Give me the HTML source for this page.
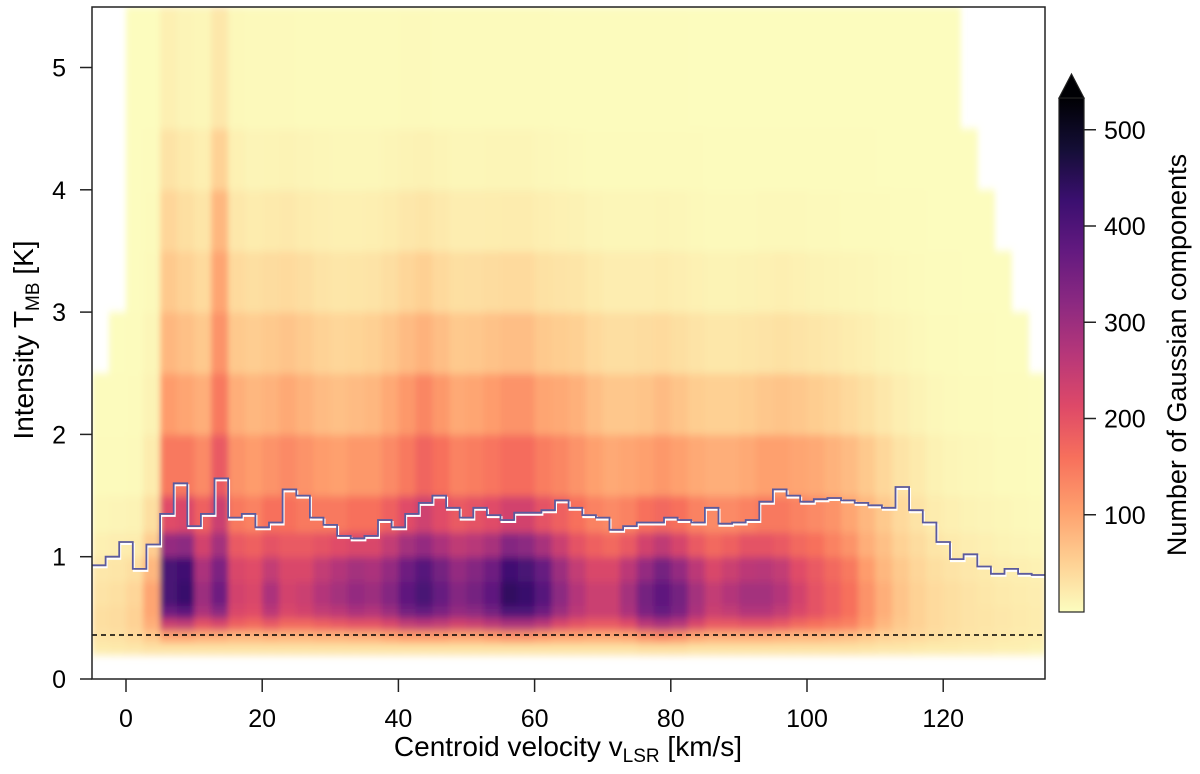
<!DOCTYPE html>
<html><head><meta charset="utf-8"><style>
html,body{margin:0;padding:0;background:#fff}
svg{display:block;font-family:"Liberation Sans",Arial,sans-serif}
</style></head><body>
<svg id="chart" width="1200" height="774" viewBox="0 0 1200 774" xmlns="http://www.w3.org/2000/svg">
<defs>
<filter id="soft" x="-0.02" y="-0.02" width="1.04" height="1.04"><feGaussianBlur stdDeviation="3 4"/></filter>
<clipPath id="plotclip"><rect x="92" y="7" width="953" height="672"/></clipPath>
<linearGradient id="cbgrad" x1="0" y1="1" x2="0" y2="0">
<stop offset="0" stop-color="#fcfdbf"/><stop offset="0.1" stop-color="#fecf92"/><stop offset="0.2" stop-color="#fe9f6d"/><stop offset="0.3" stop-color="#f7705c"/><stop offset="0.4" stop-color="#de4968"/><stop offset="0.5" stop-color="#b73779"/><stop offset="0.6" stop-color="#8c2981"/><stop offset="0.7" stop-color="#641a80"/><stop offset="0.8" stop-color="#3b0f70"/><stop offset="0.9" stop-color="#140e36"/><stop offset="1" stop-color="#000004"/>
</linearGradient>
</defs>
<g id="heat" clip-path="url(#plotclip)"><g id="cells" filter="url(#soft)"></g></g>
<g id="overlay" clip-path="url(#plotclip)"></g>
<rect x="92" y="7" width="953" height="672" fill="none" stroke="#222" stroke-width="1.5"/>
<g id="axes"></g>
<text x="568" y="756" font-size="28" text-anchor="middle">Centroid velocity v<tspan font-size="19" dy="6">LSR</tspan><tspan dy="-6"> [km/s]</tspan></text>
<text transform="translate(33,340) rotate(-90)" font-size="28" text-anchor="middle">Intensity T<tspan font-size="19" dy="6">MB</tspan><tspan dy="-6"> [K]</tspan></text>
<g id="colorbar">
<rect x="1059" y="98" width="25" height="514" fill="url(#cbgrad)" stroke="#222" stroke-width="1.2"/>
<polygon points="1059,98 1071.5,74 1084,98" fill="#000004" stroke="#222" stroke-width="1.2"/>
</g>
<text transform="translate(1186,355) rotate(-90)" font-size="27" text-anchor="middle">Number of Gaussian components</text>
</svg>
<script>
const NS="http://www.w3.org/2000/svg";
const velocityEdges=[-5,-2.5,0,2.5,5,7.5,10,12.5,15,17.5,20,22.5,25,27.5,30,32.5,35,37.5,40,42.5,45,47.5,50,52.5,55,57.5,60,62.5,65,67.5,70,72.5,75,77.5,80,82.5,85,87.5,90,92.5,95,97.5,100,102.5,105,107.5,110,112.5,115,117.5,120,122.5,125,127.5,130,132.5,135];
const intensityEdges=[0.2,0.3,0.4,0.5,0.6,0.8,1.0,1.2,1.5,2.0,2.5,3.0,3.5,4.0,4.5,5.5];
const counts=[
[20,30,35,35,30,25,15,8,3,2,0,0,0,0,0],
[22,32,38,38,34,28,18,10,4,2,1,0,0,0,0],
[25,40,50,50,45,35,20,12,5,3,2,1,1,1,1],
[30,60,90,100,100,80,55,35,20,12,8,5,3,2,1],
[30,100,240,360,410,410,310,210,150,110,80,60,45,30,15],
[30,100,250,380,430,420,320,220,150,100,70,50,35,22,10],
[30,90,200,280,300,280,230,180,130,90,60,40,28,16,8],
[30,90,220,320,360,340,290,240,190,150,120,100,80,50,25],
[30,80,180,220,230,220,190,150,120,90,60,40,25,14,6],
[30,80,170,210,220,210,180,140,110,80,55,35,20,10,5],
[30,85,190,260,280,250,200,160,120,85,60,38,22,11,5],
[30,80,170,220,230,220,190,160,130,95,65,40,24,12,5],
[30,80,170,230,240,220,190,150,120,85,58,36,20,10,4],
[30,85,180,250,270,250,200,150,110,75,50,30,17,8,3],
[30,85,190,260,290,270,210,150,105,70,45,27,15,7,3],
[30,90,200,280,310,290,220,160,115,75,48,28,15,7,3],
[30,90,200,270,300,280,220,160,115,80,52,30,16,7,3],
[30,100,220,300,330,310,250,180,130,95,62,36,20,9,4],
[30,110,250,350,380,360,290,210,150,115,75,45,25,12,5],
[30,110,260,370,410,390,310,235,175,135,85,52,28,13,5],
[30,110,250,340,370,350,280,210,160,115,72,42,23,11,4],
[30,100,230,310,330,310,255,190,140,95,60,35,18,8,3],
[30,100,240,320,350,330,265,200,145,100,62,36,18,8,3],
[30,110,260,350,380,360,285,210,155,110,68,38,19,9,3],
[30,120,280,400,440,420,330,230,165,120,72,40,20,9,3],
[30,120,280,400,430,410,320,230,165,120,72,40,20,9,3],
[30,110,260,360,390,370,285,200,145,100,60,33,16,7,3],
[30,100,220,300,320,300,240,180,135,95,56,30,14,6,2],
[30,100,200,260,270,250,200,160,120,88,52,28,13,5,2],
[30,95,190,240,240,220,180,140,105,72,42,22,10,4,2],
[30,95,190,240,240,220,170,130,95,62,36,18,8,3,2],
[30,100,210,280,290,260,190,140,100,62,36,18,8,3,2],
[35,120,260,340,350,310,230,160,105,66,38,18,8,3,2],
[35,130,280,370,380,350,255,170,115,75,40,20,9,3,2],
[35,120,265,340,350,310,225,160,105,66,35,17,8,3,2],
[30,100,220,280,290,260,190,140,95,56,30,14,6,3,1],
[30,90,190,240,250,220,170,130,90,52,26,12,5,2,1],
[30,90,190,250,270,240,180,130,90,52,26,12,5,2,1],
[30,90,200,270,290,260,200,140,95,56,28,13,5,2,1],
[30,90,200,270,290,265,200,150,105,62,30,14,6,2,1],
[30,85,190,250,270,250,190,150,105,66,33,16,6,2,1],
[30,80,170,220,230,210,170,140,100,62,30,14,6,2,1],
[30,80,160,200,200,190,160,130,95,56,27,12,5,2,1],
[30,75,150,180,180,170,140,120,85,50,24,11,5,2,1],
[30,70,140,160,160,150,120,100,75,42,20,9,4,2,1],
[28,60,110,120,120,110,90,80,60,34,16,8,3,2,1],
[25,50,80,90,90,80,70,60,44,25,12,6,3,1,1],
[25,45,60,65,65,60,50,42,30,17,9,5,2,1,1],
[22,40,50,50,50,45,38,30,22,12,6,3,2,1,1],
[20,35,40,40,40,35,28,20,13,7,4,2,1,1,1],
[20,30,35,35,35,30,22,15,9,5,3,2,1,1,1],
[18,28,30,30,30,25,18,12,7,4,2,1,1,1,0],
[18,25,28,28,26,22,15,10,6,3,2,1,1,0,0],
[15,22,25,25,22,18,12,8,4,2,1,1,0,0,0],
[15,20,22,22,20,16,10,6,3,2,1,0,0,0,0],
[12,18,20,20,18,14,8,5,2,1,0,0,0,0,0]
];
const stepStart=-5;
const stepWidth=2;
const stepValues=[0.93,1.0,1.12,0.9,1.1,1.35,1.6,1.25,1.35,1.64,1.32,1.35,1.24,1.28,1.55,1.5,1.32,1.26,1.17,1.15,1.17,1.3,1.24,1.35,1.44,1.5,1.4,1.32,1.4,1.34,1.3,1.36,1.36,1.38,1.46,1.4,1.34,1.32,1.22,1.25,1.28,1.28,1.32,1.3,1.28,1.4,1.27,1.28,1.3,1.45,1.55,1.5,1.45,1.47,1.48,1.46,1.44,1.42,1.4,1.57,1.38,1.28,1.12,0.98,1.02,0.92,0.86,0.9,0.86,0.85];
const thresholdValue=0.36;
const xTicks=[0,20,40,60,80,100,120];
const yTicks=[0,1,2,3,4,5];
const cbTicks=[100,200,300,400,500];
const cMax=533;

const X=v=>126+v*6.81;
const Y=i=>679-i*122.3;
const CB=c=>611-c*0.9625;

const stops=[[0,"#fcfdbf"],[0.1,"#fecf92"],[0.2,"#fe9f6d"],[0.3,"#f7705c"],[0.4,"#de4968"],[0.5,"#b73779"],[0.6,"#8c2981"],[0.7,"#641a80"],[0.8,"#3b0f70"],[0.9,"#140e36"],[1,"#000004"]];
function hex(h){return [1,3,5].map(k=>parseInt(h.substr(k,2),16));}
function color(c){
  const t=Math.min(1,Math.max(0,c/cMax));
  for(let k=1;k<stops.length;k++){
    if(t<=stops[k][0]){
      const a=hex(stops[k-1][1]),b=hex(stops[k][1]);
      const f=(t-stops[k-1][0])/(stops[k][0]-stops[k-1][0]);
      return "rgb("+a.map((x,j)=>Math.round(x+(b[j]-x)*f)).join(",")+")";
    }
  }
  return stops[stops.length-1][1];
}
const cells=document.getElementById("cells");
for(let ci=0;ci<counts.length;ci++){
  for(let ri=0;ri<counts[ci].length;ri++){
    const c=counts[ci][ri];
    if(c<=0) continue;
    const r=document.createElementNS(NS,"rect");
    const x0=X(velocityEdges[ci]),x1=X(velocityEdges[ci+1]);
    const y0=Y(intensityEdges[ri+1]),y1=Y(intensityEdges[ri]);
    r.setAttribute("x",x0);
    r.setAttribute("y",y0);
    r.setAttribute("width",x1-x0+0.6);
    r.setAttribute("height",y1-y0+0.6);
    r.setAttribute("fill",color(c));
    
    
    cells.appendChild(r);
  }
}
const overlay=document.getElementById("overlay");
const th=document.createElementNS(NS,"line");
th.setAttribute("x1",92);
th.setAttribute("x2",1045);
th.setAttribute("y1",Y(thresholdValue));
th.setAttribute("y2",Y(thresholdValue));
th.setAttribute("stroke","#000");
th.setAttribute("stroke-width","1.5");
th.setAttribute("stroke-dasharray","5,4");


overlay.appendChild(th);
let d="";
stepValues.forEach((v,k)=>{
  const xa=X(stepStart+k*stepWidth),xb=X(stepStart+(k+1)*stepWidth),y=Y(v);
  d+=(k===0?"M":"L")+xa.toFixed(1)+","+y.toFixed(1)+"L"+xb.toFixed(1)+","+y.toFixed(1);
});
const halo=document.createElementNS(NS,"path");
halo.setAttribute("d",d);
halo.setAttribute("fill","none");
halo.setAttribute("stroke","#fff");
halo.setAttribute("stroke-width","2");
halo.setAttribute("transform","translate(1,2)");


overlay.appendChild(halo);
const sl=document.createElementNS(NS,"path");
sl.setAttribute("d",d);
sl.setAttribute("fill","none");
sl.setAttribute("stroke","#5b5a9e");
sl.setAttribute("stroke-width","1.8");


overlay.appendChild(sl);
const axes=document.getElementById("axes");
function line(x1,y1,x2,y2,name){
  const l=document.createElementNS(NS,"line");
  l.setAttribute("x1",x1);
  l.setAttribute("y1",y1);
  l.setAttribute("x2",x2);
  l.setAttribute("y2",y2);
  l.setAttribute("stroke","#222");
  l.setAttribute("stroke-width","1.5");
  
  
  axes.appendChild(l);
}
function text(x,y,s,anchor,name){
  const t=document.createElementNS(NS,"text");
  t.setAttribute("x",x);
  t.setAttribute("y",y);
  t.setAttribute("font-size","25");
  t.setAttribute("text-anchor",anchor);
  t.textContent=s;
  
  
  axes.appendChild(t);
}
xTicks.forEach(v=>{line(X(v),679,X(v),692,"x-tick");text(X(v),727,String(v),"middle","x-tick-label");});
yTicks.forEach(v=>{line(80,Y(v),92,Y(v),"y-tick");text(66,Y(v)+9,String(v),"end","y-tick-label");});
cbTicks.forEach(v=>{line(1084,CB(v),1096,CB(v),"colorbar-tick");text(1104,CB(v)+9,String(v),"start","colorbar-tick-label");});
</script>
</body></html>
